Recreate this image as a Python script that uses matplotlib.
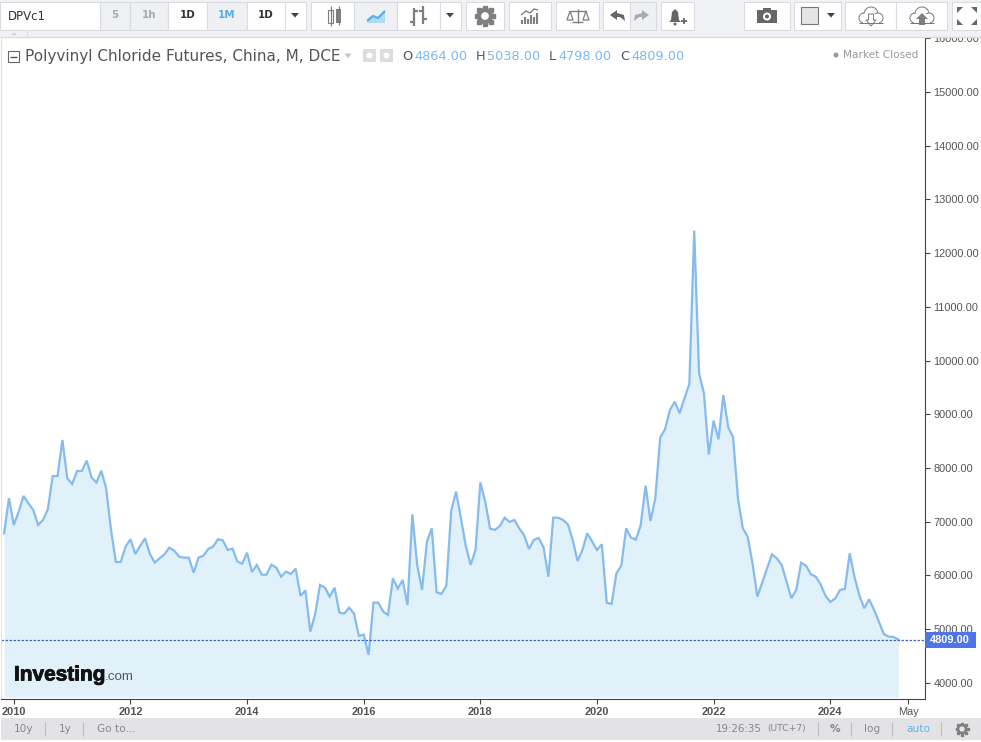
import matplotlib
matplotlib.use("Agg")
import matplotlib.pyplot as plt
import matplotlib.patheffects as pe
from matplotlib.patches import Rectangle, Polygon, Circle

# monthly closes, Nov 2009 to Mar 2025
closes_2009_2015 = [
    6785, 7436, 6940, 7188, 7479, 7343, 7219, 6940, 7033, 7231, 7851, 7851, 8521, 7808, 7702, 7944, 7944,
    8137, 7826, 7727, 7950, 7622, 6847, 6251, 6251, 6537, 6673, 6400, 6549, 6692, 6400, 6239, 6320, 6394,
    6518, 6462, 6350, 6332, 6332, 6053, 6332, 6369, 6493, 6537, 6673, 6655, 6475, 6500, 6258, 6220, 6425,
    6065, 6196, 6016, 6016, 6202, 6146, 5979, 6072, 6028, 6127, 5619, 5724, 4955, 5278, 5824, 5774, 5607,
]
closes_2015_2020 = [
    5774, 5309, 5291, 5402, 5291, 4875, 4900, 4522, 5495, 5495, 5328, 5266, 5948, 5756, 5917, 5452, 7138,
    6196, 5731, 6630, 6878, 5688, 5657, 5812, 7207, 7560, 7064, 6549, 6196, 6475, 7733, 7374, 6872, 6847,
    6921, 7076, 6996, 7033, 6878, 6748, 6493, 6661, 6698, 6524, 5979, 7076, 7076, 7033, 6952, 6661, 6270,
    6475, 6785, 6630, 6475, 6580, 5495, 5471, 6041, 6184, 6878, 6704, 6667, 6940, 7672, 7014, 7436,
]
closes_2021_2025 = [
    8565, 8720, 9080, 9235, 9018, 9297, 9564, 12416, 9762, 9390, 8250, 8882, 8534, 9359, 8758, 8572, 7436,
    6878, 6723, 6227, 5607, 5873, 6134, 6394, 6320, 6196, 5886, 5576, 5731, 6239, 6184, 6023, 5979, 5836,
    5626, 5508, 5570, 5731, 5750, 6413, 5966, 5626, 5390, 5557, 5359, 5142, 4913, 4863, 4857, 4809,
]
closes = closes_2009_2015 + closes_2015_2020 + closes_2021_2025
months = list(range(len(closes)))

price_ticks = [4000, 5000, 6000, 7000, 8000, 9000, 10000, 11000, 12000, 13000, 14000, 15000, 16000]
date_ticks = [2, 26, 50, 74, 98, 122, 146, 170, 186]
date_labels = ["2010", "2012", "2014", "2016", "2018", "2020", "2022", "2024", "May"]
last_close = 4809

LINE = "#85bbee"
FILL = "#e0f1fa"
BLUE = "#7db8ee"
TICK = "#555555"
BORDER = "#d9dbe0"
ICON = "#7f7f7f"
FONT = "DejaVu Sans"
ARIAL = "Liberation Sans"

fig = plt.figure(figsize=(9.81, 7.42), dpi=100, facecolor="white")

# main chart, placed by pixel edges
ax = fig.add_axes([1 / 981, (742 - 699) / 742, 924 / 981, 662 / 742])
ax.set_xlim(-0.638, 189.49)
ax.set_ylim(3702, 16019)
ax.fill_between(months, closes, 3740, color=FILL, lw=0)
ax.plot(months, closes, color=LINE, lw=1.6, solid_joinstyle="miter")
ax.axhline(last_close, color="#3f63d8", lw=0.9, ls=(0, (2, 1.2)))

ax.yaxis.tick_right()
ax.set_yticks(price_ticks)
ax.set_yticklabels([f"{p}.00" for p in price_ticks], family=ARIAL, fontsize=7.9, color=TICK)
ax.set_xticks(date_ticks)
ax.set_xticklabels(date_labels, family=ARIAL, fontsize=7.9, color=TICK)
for lab in ax.get_xticklabels()[:-1]:
    lab.set_fontweight("bold")
ax.tick_params(axis="y", length=3.5, width=0.8, color="#444444", pad=2.5)
ax.tick_params(axis="x", length=3.5, width=0.8, color="#444444", pad=2.5)
ax.spines["top"].set_visible(False)
ax.spines["left"].set_color("#dfe1e5")
ax.spines["right"].set_color("#444444")
ax.spines["bottom"].set_color("#444444")

# overlay in pixel coordinates for the toolbar and the labels
ov = fig.add_axes([0, 0, 1, 1], zorder=5)
ov.set_xlim(0, 981)
ov.set_ylim(742, 0)
ov.axis("off")
ov.patch.set_alpha(0)


def box(x0, y0, x1, y1, fc="white", ec=BORDER, lw=0.8):
    ov.add_patch(Rectangle((x0, y0), x1 - x0, y1 - y0, fc=fc, ec=ec, lw=lw))


def label(x, y, s, color="#333333", size=8, ha="center", family=FONT, weight="normal"):
    return ov.text(x, y, s, color=color, fontsize=size, ha=ha, va="center", family=family, weight=weight)


def caret(x, y, color="#444444", w=4):
    ov.add_patch(Polygon([(x - w, y - 2), (x + w, y - 2), (x, y + 2.5)], fc=color, ec="none"))


def poly(points, fc=ICON, ec="none", lw=1.0):
    ov.add_patch(Polygon(points, fc=fc, ec=ec, lw=lw))


def line(xs, ys, color=ICON, lw=1.2):
    ov.plot(xs, ys, color=color, lw=lw, solid_capstyle="butt")


def cloud(x, y, arrow_up):
    for dx, dy, r in [(-7, 3, 5), (0, -1, 7), (7, 3, 5)]:
        ov.add_patch(Circle((x + dx, y + dy), r, fc="white", ec="#777777", lw=0.7))
    ov.add_patch(Rectangle((x - 8, y - 1), 16, 8.5, fc="white", ec="none"))
    line([x - 12, x + 12], [y + 8, y + 8], "#777777", 0.7)
    if arrow_up:
        poly([(x, y - 2), (x + 6, y + 4), (x + 3, y + 4), (x + 3, y + 10), (x - 3, y + 10), (x - 3, y + 4), (x - 6, y + 4)])
    else:
        poly([(x, y + 11), (x + 5, y + 5), (x + 2.5, y + 5), (x + 2.5, y - 1), (x - 2.5, y - 1), (x - 2.5, y + 5), (x - 5, y + 5)], fc="white", ec="#777777", lw=0.7)


# top toolbar
ov.add_patch(Rectangle((0, 0), 981, 36.5, fc="#f1f2f5", ec="none"))
line([0, 981], [36.5, 36.5], BORDER, 1.0)
line([26.5, 26.5], [31, 36], BORDER, 0.8)
poly([(11, 35), (17, 35), (14, 32.5)], fc="#cfd1d6")
box(0, 2, 100, 30)
label(8, 16, "DPVc1", ha="left", size=8.5, color="#333333")
for x0, x1, txt, fc, col in [
    (100, 130, "5", "#eff0f3", "#aaaaaa"),
    (130, 168, "1h", "#eff0f3", "#aaaaaa"),
    (168, 207, "1D", "white", "#333333"),
    (207, 247, "1M", "#eff0f3", "#5aaee6"),
    (247, 285, "1D", "white", "#333333"),
]:
    box(x0, 2, x1, 30, fc=fc)
    label((x0 + x1) / 2, 15.5, txt, color=col, size=7.4, weight="bold")
box(285, 2, 306, 30)
caret(295, 15)

# chart type buttons
box(311, 2, 354, 30)
box(328, 10, 333, 23, fc="white", ec=ICON)
line([330.5, 330.5], [6, 26], ICON, 0.9)
ov.add_patch(Rectangle((336, 9), 5, 14, fc=ICON, ec="none"))
line([338.5, 338.5], [6, 25], ICON, 0.9)
box(354, 2, 397, 30, fc="#eff0f3")
poly([(367, 21), (373, 16), (378, 18), (385, 11), (385, 23), (367, 23)], fc="#b4daf2")
line([367, 373, 378, 385], [21, 16, 18, 11], "#5aaee6", 1.6)
box(397, 2, 440, 30)
line([414, 414], [8, 26], ICON, 1.6)
line([410, 414], [22, 22], ICON, 1.6)
line([414, 418], [11, 11], ICON, 1.6)
line([423, 423], [6, 24], ICON, 1.6)
line([419, 423], [11, 11], ICON, 1.6)
line([423, 427], [19, 19], ICON, 1.6)
box(440, 2, 461, 30)
caret(450, 15)

# settings, indicators, scale
box(466, 2, 504, 30)
ov.add_patch(Circle((485, 16), 6, fc="white", ec=ICON, lw=3.0))
for dx, dy in [(0, -8), (0, 8), (-8, 0), (8, 0), (-6, -6), (6, 6), (-6, 6), (6, -6)]:
    ov.plot([485 + dx], [16 + dy], marker="s", ms=2.2, color=ICON)
box(509, 2, 551, 30)
for i, h in enumerate([4, 7, 5, 9, 7, 11]):
    line([522 + i * 3, 522 + i * 3], [24, 24 - h], ICON, 1.5)
line([521, 526, 530, 534, 538], [15, 11, 13, 9, 10], ICON, 1.0)
box(556, 2, 599, 30)
line([577.5, 577.5], [9, 23], ICON, 1.0)
line([570, 586], [11, 11], ICON, 1.0)
line([572, 583], [22, 22], ICON, 1.0)
line([570, 567, 573, 570], [11, 20, 20, 11], ICON, 0.9)
line([586, 583, 589, 586], [11, 20, 20, 11], ICON, 0.9)

# undo, redo, alert
box(603, 2, 630, 30)
poly([(610, 15), (617, 10), (617, 13), (624, 15), (625, 21), (620, 17), (617, 17), (617, 20)], fc="#666666")
box(630, 2, 656, 30, fc="#eff0f3")
poly([(649, 15), (642, 10), (642, 13), (635, 15), (634, 21), (639, 17), (642, 17), (642, 20)], fc="#aaaaaa")
box(661, 2, 694, 30)
poly([(669, 22), (671, 20), (672, 12), (675, 9), (678, 12), (679, 20), (681, 22)], fc="#666666")
ov.add_patch(Circle((675, 24), 1.5, fc="#666666", ec="none"))
line([681, 687], [21, 21], "#666666", 1.3)
line([684, 684], [18, 24], "#666666", 1.3)

# right group
box(744, 2, 790, 30)
ov.add_patch(Rectangle((757, 10), 20, 13, fc="#666666", ec="none"))
ov.add_patch(Rectangle((763, 8), 8, 3, fc="#666666", ec="none"))
ov.add_patch(Circle((767, 16.5), 4, fc="white", ec="none"))
ov.add_patch(Circle((767, 16.5), 2, fc="#666666", ec="none"))
box(794, 2, 841, 30)
box(801, 7, 818, 24, fc="#e5e5e5", ec="#777777")
caret(831, 15)
box(845, 2, 896, 30)
cloud(871, 15, False)
box(896, 2, 947, 30)
cloud(922, 15, True)
box(952, 2, 981, 30)
for sx, sy in [(-1, -1), (1, -1), (-1, 1), (1, 1)]:
    cx, cy = 967 + sx * 7, 16 + sy * 6
    poly([(cx + sx * 3, cy + sy * 3), (cx - sx * 3, cy + sy * 3), (cx + sx * 3, cy - sy * 3)], fc="#666666")

# legend row
box(7.5, 51, 18.5, 62, fc="white", ec="#666666")
line([9.5, 16.5], [56.5, 56.5], "#555555", 1.0)
label(25, 56, "Polyvinyl Chloride Futures, China, M, DCE", ha="left", color="#555555", size=11)
caret(348, 55.5, "#c4c4c4", 3.5)
ov.add_patch(Rectangle((363, 49), 13, 13, fc="#dddddd", ec="none"))
ov.add_patch(Circle((369.5, 55.5), 3, fc="white", ec="none"))
ov.add_patch(Rectangle((380, 49), 13, 13, fc="#dddddd", ec="none"))
ov.add_patch(Circle((386.5, 55.5), 3, fc="white", ec="none"))
for x_l, l_txt, x_v, v_txt in [
    (402, "O", 414, "4864.00"),
    (476, "H", 487, "5038.00"),
    (549, "L", 558, "4798.00"),
    (620, "C", 631, "4809.00"),
]:
    label(x_l, 57, l_txt, ha="left", color="#555555", size=9.3)
    label(x_v, 57, v_txt, ha="left", color=BLUE, size=9.3)
ov.add_patch(Circle((836, 55), 2.5, fc="#999999", ec="none"))
label(843, 55, "Market Closed", ha="left", color="#999999", size=7.6)

# last price tag
ov.add_patch(Rectangle((925, 632), 51, 16, fc="#4f74e8", ec="none"))
label(950, 640, "4809.00", color="white", size=7.9, family=ARIAL, weight="bold")

# watermark
logo = label(14, 675, "Investing", ha="left", color="#111111", size=15, family=ARIAL, weight="bold")
logo.set_path_effects([pe.withStroke(linewidth=0.6, foreground="#111111")])
label(105, 677, ".com", ha="left", color="#555555", size=9.6, family=ARIAL)
ov.add_patch(Circle((76, 666.5), 1.6, fc="#f5a623", ec="none"))

# bottom bar
ov.add_patch(Rectangle((1, 718), 980, 22, fc="#e3e3e6", ec="none"))
label(24, 729, "10y", color="#888888", size=7.6)
line([45, 45], [722, 736], "#bdbdbd", 0.8)
label(65, 729, "1y", color="#888888", size=7.6)
line([83, 83], [722, 736], "#bdbdbd", 0.8)
label(97, 729, "Go to...", ha="left", color="#888888", size=7.6)
label(716, 729, "19:26:35", ha="left", color="#888888", size=7.4)
label(767, 729, "(UTC+7)", ha="left", color="#888888", size=6.6)
line([818, 818], [722, 736], "#bdbdbd", 0.8)
label(835, 729, "%", color="#888888", size=7.6, weight="bold")
line([851, 851], [722, 736], "#bdbdbd", 0.8)
label(872, 729, "log", color="#888888", size=7.6)
line([892, 892], [722, 736], "#bdbdbd", 0.8)
label(918, 729, "auto", color="#5cb8e6", size=7.6)
line([941, 941], [722, 736], "#bdbdbd", 0.8)
ov.add_patch(Circle((962, 729), 4, fc="#e3e3e6", ec=ICON, lw=1.8))
for dx, dy in [(0, -5.5), (0, 5.5), (-5.5, 0), (5.5, 0), (-4, -4), (4, 4), (-4, 4), (4, -4)]:
    ov.plot([962 + dx], [729 + dy], marker="s", ms=1.5, color=ICON)

fig.savefig("out.png", dpi=100)
